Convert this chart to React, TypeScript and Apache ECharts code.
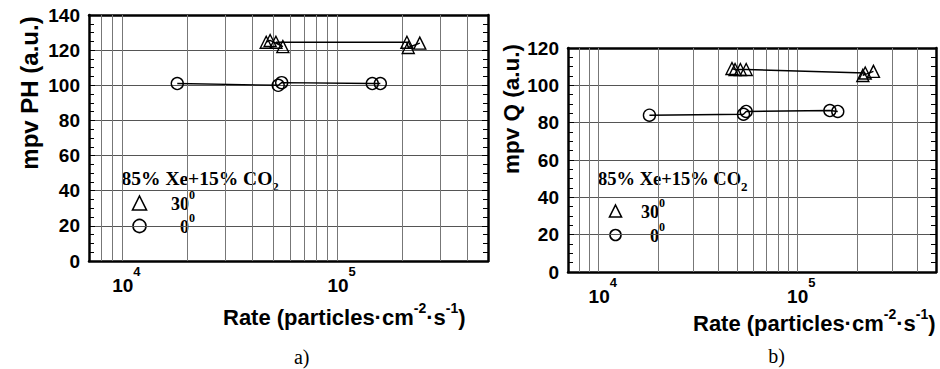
import React, { useEffect, useRef } from "react";
import * as echarts from "echarts";

// ---- data ----
const xMin = 7000;
const xMax = 500000;
const xGridValues = [8000, 9000, 10000, 20000, 30000, 40000, 50000, 60000, 70000, 80000, 90000, 100000, 200000, 300000, 400000];

// a) mpv PH
const phRate30 = [46600, 48600, 55700, 51700, 210000, 213000, 241000];
const ph30 = [124.5, 125.5, 122, 124.5, 124.5, 121.5, 124];
const phRate0 = [18000, 53000, 55000, 145000, 158000];
const ph0 = [101, 100, 101.5, 101, 101];

// b) mpv Q
const qRate30 = [46900, 48600, 51700, 55300, 220000, 214000, 242000];
const q30 = [109, 108.5, 108.5, 108.5, 106.6, 105.3, 107.5];
const qRate0 = [18000, 53600, 55300, 146000, 160000];
const q0 = [84, 84.5, 86, 86.5, 86];

const yMaxPH = 140;
const yMaxQ = 120;
const yStep = 20;

const sans = "'Liberation Sans', Arial, Helvetica, sans-serif";
const serif = "'Liberation Serif', 'Times New Roman', serif";

function zip(xs: number[], ys: number[]) {
  return xs.map((x, i) => [x, ys[i]]);
}

function decadeLabel(v: number) {
  const l = Math.log10(v);
  const e = Math.round(l);
  if (Math.abs(l - e) > 1e-6) return "";
  return `{b|10}{s|${e}}`;
}

function xAxes(gridIndex: number) {
  const common = {
    gridIndex,
    type: "log",
    logBase: 10,
    min: xMin,
    max: xMax,
    axisTick: { show: false },
    minorTick: { show: false },
    splitLine: { show: false },
    axisLine: { show: true, onZero: false, lineStyle: { color: "#000", width: 2.5 } },
  };
  return [
    {
      ...common,
      position: "bottom",
      axisLabel: {
        show: true,
        margin: 4,
        padding: [0, 0, 0, 8],
        hideOverlap: false,
        formatter: decadeLabel,
        rich: {
          b: { fontSize: 19, fontWeight: "bold", fontFamily: sans, color: "#000", lineHeight: 30, verticalAlign: "bottom" },
          s: { fontSize: 13, fontWeight: "bold", fontFamily: sans, color: "#000", lineHeight: 12, verticalAlign: "top" },
        },
      },
    },
    { ...common, position: "top", axisLabel: { show: false } },
  ];
}

function yAxes(gridIndex: number, max: number) {
  const common = {
    gridIndex,
    type: "value",
    min: 0,
    max,
    interval: yStep,
    axisLine: { show: true, onZero: false, lineStyle: { color: "#000", width: 2.5 } },
    axisTick: { show: true, inside: true, length: 6, lineStyle: { color: "#000", width: 1 } },
    minorTick: { show: true, splitNumber: 4, length: 5, lineStyle: { color: "#000", width: 1 } },
  };
  return [
    {
      ...common,
      position: "left",
      splitLine: { show: true, lineStyle: { color: "#555", width: 1 } },
      axisLabel: { margin: 9, fontSize: 19, fontWeight: "bold", color: "#000", fontFamily: sans },
    },
    { ...common, position: "right", splitLine: { show: false }, axisLabel: { show: false } },
  ];
}

function gridLineSeries(axisIndex: number) {
  return {
    type: "line",
    xAxisIndex: axisIndex,
    yAxisIndex: axisIndex,
    data: [],
    silent: true,
    z: 1,
    markLine: {
      silent: true,
      symbol: "none",
      animation: false,
      label: { show: false },
      lineStyle: { color: "#777", width: 1, type: "solid" },
      emphasis: { disabled: true },
      data: xGridValues.map((v) => ({ xAxis: v })),
    },
  };
}

function dataSeries(axisIndex: number, name: string, data: number[][], symbol: string) {
  return {
    type: "line",
    name,
    xAxisIndex: axisIndex,
    yAxisIndex: axisIndex,
    data,
    symbol,
    symbolSize: symbol === "triangle" ? [12, 12] : 12,
    showSymbol: true,
    itemStyle: { color: "rgba(0,0,0,0)", borderColor: "#000", borderWidth: 1.4 },
    lineStyle: { color: "#000", width: 1.4 },
    emphasis: { disabled: true },
    z: 5,
  };
}

const entryRich = {
  n: { fontSize: 18, fontWeight: "bold", fontFamily: serif, fill: "#000", lineHeight: 24, verticalAlign: "bottom" },
  p: { fontSize: 12, fontWeight: "bold", fontFamily: serif, fill: "#000", lineHeight: 10, verticalAlign: "top" },
};

function legendGraphics(x0: number, titleY: number, titleSize: number, mx: number, triY: number, cirY: number, textRight: number, size: number) {
  return [
    {
      type: "text",
      x: x0,
      y: titleY,
      style: {
        text: "{m|85% Xe+15% CO}{u|2}",
        align: "left",
        verticalAlign: "middle",
        rich: {
          m: { fontSize: titleSize, fontWeight: "bold", fontFamily: serif, fill: "#000", lineHeight: 24, verticalAlign: "top" },
          u: { fontSize: 13, fontWeight: "bold", fontFamily: serif, fill: "#000", lineHeight: 12, verticalAlign: "bottom" },
        },
      },
    },
    {
      type: "polygon",
      shape: { points: [[mx, triY - size / 2], [mx + size / 2, triY + size / 2], [mx - size / 2, triY + size / 2]] },
      style: { fill: "none", stroke: "#000", lineWidth: 1.6 },
    },
    {
      type: "circle",
      shape: { cx: mx, cy: cirY, r: size / 2 - 0.5 },
      style: { fill: "none", stroke: "#000", lineWidth: 1.6 },
    },
    {
      type: "text",
      x: textRight,
      y: triY - 2,
      style: { text: "{n|30}{p|0}", align: "right", verticalAlign: "middle", rich: entryRich },
    },
    {
      type: "text",
      x: textRight,
      y: cirY - 2,
      style: { text: "{n|0}{p|0}", align: "right", verticalAlign: "middle", rich: entryRich },
    },
  ];
}

function xTitle(x: number, y: number) {
  return {
    type: "text",
    x,
    y,
    style: {
      text: "{t|Rate (particles·cm}{s|-2}{t|·s}{s|-1}{t|)}",
      align: "left",
      verticalAlign: "middle",
      rich: {
        t: { fontSize: 22, fontWeight: "bold", fontFamily: sans, fill: "#000", lineHeight: 27, verticalAlign: "bottom" },
        s: { fontSize: 14, fontWeight: "bold", fontFamily: sans, fill: "#000", lineHeight: 14, verticalAlign: "top" },
      },
    },
  };
}

export default function App() {
  const ref = useRef<HTMLDivElement>(null);

  useEffect(() => {
    if (!ref.current) return;
    const chart = echarts.init(ref.current, null, { renderer: "svg" });
    const option = {
      animation: false,
      backgroundColor: "#fff",
      grid: [
        { left: 89, top: 15, width: 399, height: 246 },
        { left: 568, top: 48, width: 368, height: 224 },
      ],
      xAxis: [...xAxes(0), ...xAxes(1)],
      yAxis: [...yAxes(0, yMaxPH), ...yAxes(1, yMaxQ)],
      series: [
        gridLineSeries(0),
        gridLineSeries(2),
        dataSeries(0, "30°", zip(phRate30, ph30), "triangle"),
        dataSeries(0, "0°", zip(phRate0, ph0), "circle"),
        dataSeries(2, "30°", zip(qRate30, q30), "triangle"),
        dataSeries(2, "0°", zip(qRate0, q0), "circle"),
      ],
      graphic: [
        {
          type: "text",
          x: 29,
          y: 93,
          rotation: Math.PI / 2,
          style: { text: "mpv PH (a.u.)", fontSize: 24, fontWeight: "bold", fontFamily: sans, fill: "#000", align: "center", verticalAlign: "middle" },
        },
        {
          type: "text",
          x: 511,
          y: 109,
          rotation: Math.PI / 2,
          style: { text: "mpv Q (a.u.)", fontSize: 22.5, fontWeight: "bold", fontFamily: sans, fill: "#000", align: "center", verticalAlign: "middle" },
        },
        xTitle(223, 314.5),
        xTitle(693, 320.5),
        ...legendGraphics(121.5, 180.5, 19.5, 139.5, 203, 226, 195, 14),
        ...legendGraphics(598, 181, 18.5, 615.5, 211, 235, 665, 12),
        {
          type: "text",
          x: 301.7,
          y: 356.5,
          style: { text: "a)", fontSize: 20, fontFamily: serif, fill: "#000", align: "center", verticalAlign: "middle" },
        },
        {
          type: "text",
          x: 776.7,
          y: 356,
          style: { text: "b)", fontSize: 20, fontFamily: serif, fill: "#000", align: "center", verticalAlign: "middle" },
        },
      ],
    };
    chart.setOption(option as any);
    return () => chart.dispose();
  }, []);

  return <div ref={ref} style={{ position: "absolute", left: 0, top: 0, width: 940, height: 369 }} />;
}
